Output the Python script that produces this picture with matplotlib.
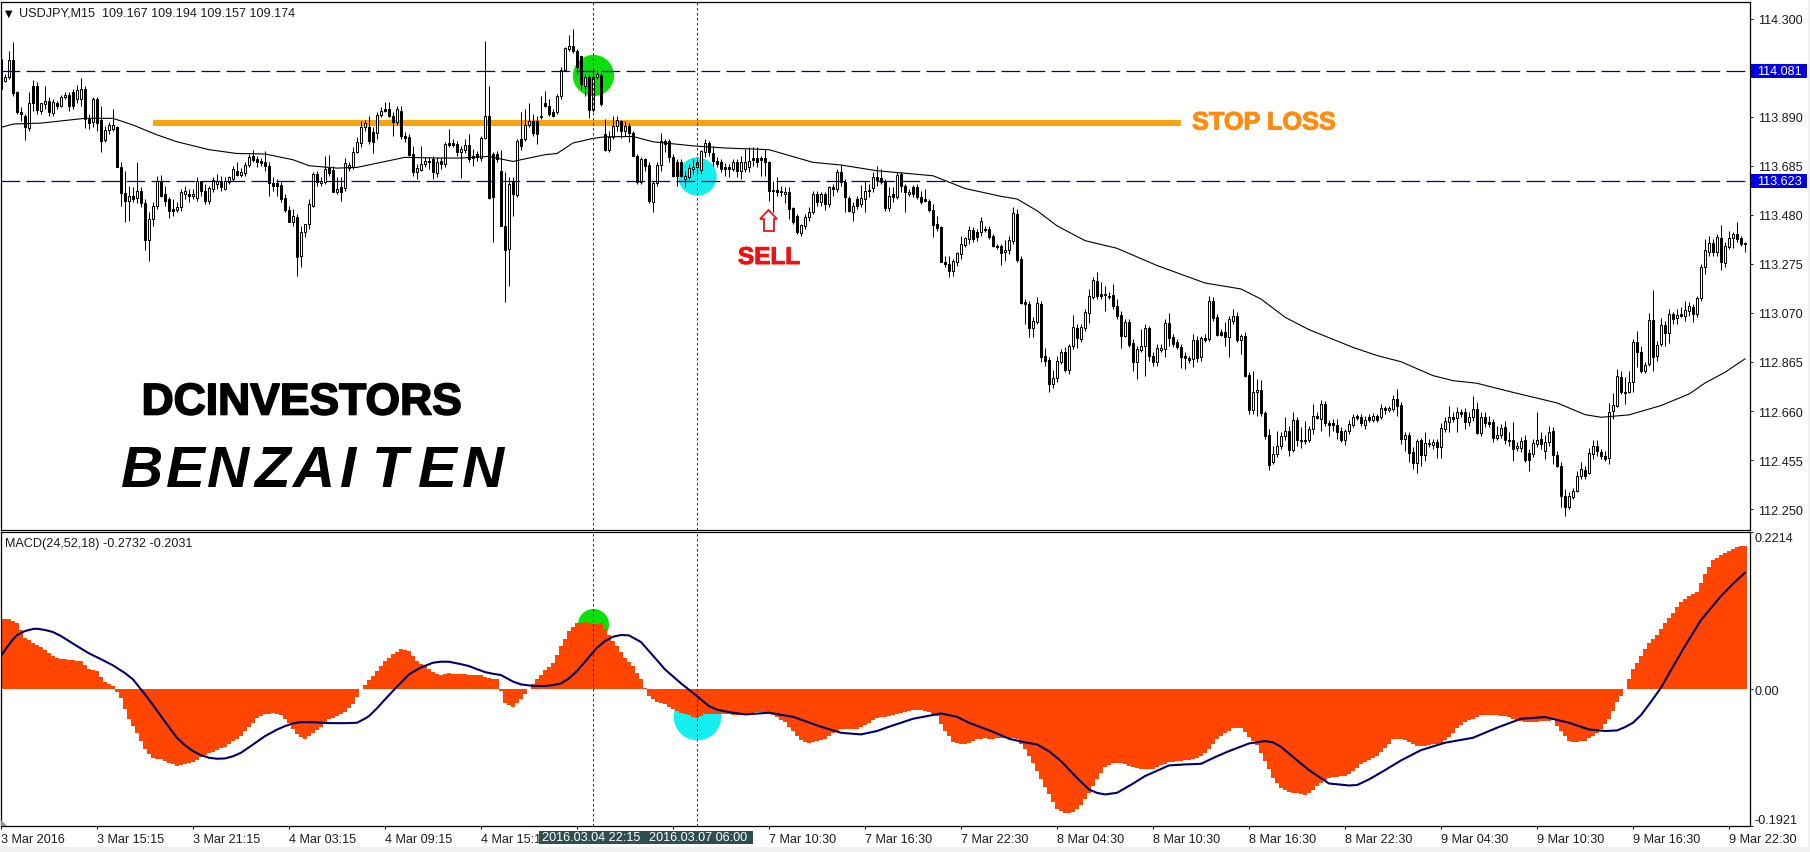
import numpy as np
import matplotlib
matplotlib.use("Agg")
import matplotlib.pyplot as plt
from matplotlib.patches import Rectangle, Polygon
from matplotlib.transforms import Affine2D
import matplotlib.patheffects as pe

symbol_text = "USDJPY,M15  109.167 109.194 109.157 109.174"
macd_text = "MACD(24,52,18) -0.2732 -0.2031"

open_ = [
114.130,114.040,114.054,114.126,113.991,113.908,113.891,113.842,114.016,114.019,
113.915,113.943,113.956,113.905,113.947,113.936,113.973,113.981,113.991,113.963,
113.963,114.005,113.880,113.869,113.963,113.877,113.794,113.835,113.838,113.845,
113.681,113.569,113.539,113.560,113.550,113.578,113.529,113.376,113.462,113.515,
113.622,113.567,113.546,113.504,113.501,113.511,113.567,113.567,113.560,113.550,
113.622,113.581,113.539,113.588,113.608,113.622,113.588,113.618,113.629,113.664,
113.647,113.653,113.689,113.727,113.713,113.706,113.699,113.682,113.611,113.611,
113.604,113.549,113.501,113.451,113.469,113.306,113.407,113.440,113.518,113.650,
113.613,113.618,113.674,113.668,113.576,113.595,113.592,113.675,113.678,113.743,
113.780,113.846,113.845,113.824,113.820,113.898,113.922,113.922,113.894,113.866,
113.915,113.810,113.807,113.736,113.660,113.668,113.692,113.706,113.713,113.654,
113.706,113.692,113.780,113.780,113.775,113.743,113.752,113.773,113.727,113.734,
113.716,113.799,113.891,113.734,113.734,113.661,113.434,113.337,113.618,113.562,
113.796,113.796,113.855,113.873,113.873,113.887,113.949,113.936,113.908,113.908,
113.975,114.086,114.172,114.186,114.165,114.142,114.016,114.054,113.919,114.054,
114.066,113.817,113.752,113.803,113.849,113.873,113.831,113.849,113.820,113.727,
113.618,113.713,113.688,113.535,113.613,113.688,113.789,113.789,113.720,113.699,
113.699,113.629,113.636,113.671,113.678,113.668,113.743,113.780,113.738,113.706,
113.699,113.678,113.678,113.671,113.699,113.664,113.671,113.678,113.716,113.716,
113.716,113.716,113.702,113.585,113.583,113.581,113.567,113.576,113.507,113.476,
113.404,113.434,113.469,113.490,113.567,113.532,113.567,113.525,113.595,113.588,
113.657,113.615,113.550,113.490,113.546,113.525,113.546,113.581,113.590,113.636,
113.632,113.618,113.507,113.567,113.553,113.650,113.599,113.567,113.595,113.595,
113.553,113.546,113.539,113.501,113.441,113.427,113.284,113.274,113.246,113.284,
113.316,113.354,113.379,113.416,113.409,113.407,113.418,113.421,113.393,113.351,
113.351,113.323,113.334,113.372,113.483,113.295,113.114,113.107,113.006,113.033,
113.107,112.889,112.873,112.773,112.797,112.866,112.908,112.833,112.931,113.006,
112.961,113.008,113.070,113.135,113.203,113.148,113.146,113.142,113.145,113.098,
113.061,112.972,113.031,112.943,112.866,112.917,112.933,113.006,112.892,112.866,
112.917,112.919,113.028,112.968,112.947,112.929,112.889,112.882,112.878,112.957,
112.885,112.965,112.961,113.121,113.052,112.992,112.992,112.968,113.038,113.056,
112.958,112.975,112.811,112.666,112.741,112.750,112.652,112.560,112.446,112.481,
112.513,112.555,112.578,112.499,112.623,112.541,112.540,112.537,112.583,112.638,
112.627,112.690,112.609,112.609,112.602,112.578,112.537,112.576,112.603,112.638,
112.637,112.603,112.634,112.623,112.638,112.634,112.673,112.663,112.669,112.711,
112.686,112.544,112.560,112.488,112.443,112.537,112.477,112.523,112.518,112.532,
112.509,112.585,112.616,112.634,112.630,112.655,112.655,112.613,112.634,112.669,
112.569,112.634,112.613,112.613,112.546,112.562,112.592,112.541,112.537,112.505,
112.505,112.537,112.484,112.481,112.523,112.544,112.495,112.530,112.576,112.477,
112.432,112.307,112.258,112.300,112.324,112.390,112.415,112.402,112.481,112.516,
112.488,112.474,112.463,112.660,112.680,112.802,112.741,112.741,112.780,112.947,
112.905,112.829,112.855,113.039,112.889,112.939,113.020,112.985,113.064,113.047,
113.064,113.056,113.080,113.093,113.066,113.131,113.260,113.326,113.361,113.326,
113.382,113.279,113.344,113.382,113.400,113.382,113.362]

close = [
114.005,114.054,114.128,113.988,113.908,113.901,113.845,113.949,113.949,113.919,
113.949,113.956,113.908,113.950,113.933,113.973,113.981,113.936,113.936,114.002,
114.005,113.880,113.863,113.963,113.863,113.790,113.835,113.855,113.855,113.681,
113.569,113.539,113.560,113.546,113.578,113.529,113.376,113.462,113.518,113.622,
113.560,113.539,113.497,113.497,113.511,113.574,113.578,113.560,113.567,113.622,
113.578,113.539,113.590,113.626,113.622,113.595,113.622,113.636,113.671,113.647,
113.659,113.688,113.720,113.710,113.702,113.695,113.685,113.613,113.601,113.601,
113.546,113.501,113.451,113.476,113.302,113.407,113.440,113.525,113.650,113.615,
113.623,113.671,113.655,113.576,113.586,113.577,113.696,113.689,113.743,113.782,
113.846,113.865,113.789,113.785,113.898,113.915,113.915,113.894,113.866,113.922,
113.808,113.799,113.730,113.660,113.674,113.692,113.703,113.699,113.657,113.699,
113.692,113.775,113.773,113.773,113.741,113.755,113.773,113.713,113.716,113.720,
113.799,113.891,113.550,113.553,113.713,113.434,113.334,113.610,113.567,113.789,
113.766,113.855,113.873,113.820,113.817,113.887,113.936,113.901,113.894,113.975,
114.086,114.175,114.186,114.165,114.096,114.026,114.054,113.919,114.054,114.068,
113.942,113.752,113.803,113.849,113.877,113.831,113.849,113.820,113.727,113.618,
113.713,113.685,113.539,113.613,113.688,113.789,113.775,113.720,113.643,113.643,
113.643,113.643,113.674,113.678,113.701,113.748,113.780,113.741,113.706,113.692,
113.671,113.671,113.671,113.699,113.664,113.699,113.699,113.703,113.710,113.699,
113.710,113.699,113.581,113.581,113.576,113.574,113.574,113.504,113.451,113.407,
113.437,113.469,113.490,113.567,113.535,113.567,113.525,113.595,113.588,113.657,
113.615,113.553,113.497,113.518,113.518,113.550,113.581,113.585,113.636,113.625,
113.618,113.507,113.559,113.553,113.646,113.599,113.574,113.574,113.567,113.553,
113.535,113.539,113.501,113.438,113.425,113.281,113.274,113.246,113.288,113.320,
113.358,113.382,113.416,113.379,113.386,113.455,113.421,113.388,113.348,113.348,
113.320,113.334,113.376,113.486,113.292,113.112,113.107,113.006,113.036,113.110,
112.887,112.871,112.773,112.797,112.869,112.908,112.833,112.933,113.010,112.964,
113.010,113.073,113.139,113.208,113.139,113.142,113.149,113.138,113.098,113.059,
112.975,113.031,112.937,112.866,112.919,112.931,113.006,112.892,112.866,112.922,
112.922,113.028,112.965,112.940,112.926,112.887,112.883,112.875,112.957,112.880,
112.965,112.958,113.118,113.049,112.979,112.979,112.971,113.045,113.059,112.958,
112.972,112.808,112.666,112.741,112.750,112.652,112.557,112.435,112.481,112.513,
112.555,112.576,112.499,112.623,112.537,112.537,112.535,112.585,112.638,112.634,
112.690,112.609,112.605,112.605,112.574,112.537,112.576,112.606,112.634,112.634,
112.610,112.621,112.624,112.641,112.624,112.673,112.663,112.673,112.711,112.683,
112.544,112.558,112.485,112.443,112.534,112.477,112.527,112.527,112.532,112.509,
112.588,112.617,112.637,112.627,112.655,112.648,112.613,112.634,112.669,112.569,
112.634,112.609,112.609,112.546,112.562,112.588,112.541,112.537,112.502,112.513,
112.535,112.457,112.457,112.525,112.541,112.523,112.530,112.574,112.477,112.429,
112.307,112.258,112.304,112.324,112.390,112.418,112.390,112.485,112.516,112.491,
112.474,112.460,112.658,112.685,112.805,112.741,112.738,112.780,112.947,112.905,
112.828,112.853,113.039,112.887,112.936,113.020,112.985,113.067,113.045,113.061,
113.059,113.082,113.098,113.066,113.131,113.260,113.331,113.361,113.326,113.386,
113.281,113.348,113.382,113.400,113.379,113.356,113.356]

high = [
114.172,114.068,114.165,114.200,113.997,113.929,113.901,113.991,114.043,114.033,
113.929,114.016,113.970,113.963,113.956,113.980,113.991,113.991,114.005,114.022,
114.050,114.016,113.901,113.970,113.970,113.936,113.852,113.866,113.922,113.852,
113.699,113.664,113.601,113.595,113.699,113.595,113.546,113.490,113.532,113.643,
113.647,113.601,113.553,113.546,113.532,113.588,113.599,113.588,113.588,113.636,
113.622,113.608,113.601,113.636,113.650,113.643,113.636,113.643,113.685,113.699,
113.674,113.699,113.734,113.752,113.727,113.716,113.748,113.699,113.636,113.629,
113.615,113.567,113.518,113.504,113.483,113.434,113.441,113.546,113.657,113.664,
113.636,113.727,113.730,113.685,113.636,113.636,113.716,113.699,113.762,113.803,
113.873,113.877,113.891,113.845,113.908,113.929,113.952,113.952,113.908,113.933,
113.936,113.824,113.817,113.768,113.692,113.768,113.720,113.720,113.727,113.720,
113.720,113.782,113.838,113.796,113.789,113.768,113.796,113.817,113.755,113.748,
113.810,114.207,114.016,113.741,113.748,113.750,113.657,113.636,113.636,113.796,
113.908,113.922,113.947,113.901,113.894,113.977,113.998,113.963,113.922,113.984,
114.096,114.179,114.231,114.258,114.172,114.144,114.068,114.064,114.086,114.086,
114.072,113.880,113.831,113.891,113.891,113.877,113.873,113.863,113.831,113.734,
113.720,113.716,113.699,113.622,113.699,113.820,113.796,113.796,113.734,113.713,
113.713,113.664,113.692,113.713,113.720,113.752,113.796,113.789,113.768,113.720,
113.713,113.696,113.692,113.713,113.713,113.727,113.755,113.762,113.762,113.762,
113.727,113.755,113.706,113.622,113.636,113.601,113.595,113.595,113.511,113.483,
113.441,113.483,113.511,113.581,113.581,113.576,113.574,113.599,113.608,113.671,
113.688,113.629,113.557,113.532,113.560,113.604,113.622,113.608,113.657,113.685,
113.671,113.629,113.595,113.595,113.657,113.657,113.608,113.588,113.604,113.608,
113.581,113.588,113.546,113.525,113.476,113.434,113.309,113.309,113.295,113.323,
113.390,113.386,113.434,113.427,113.421,113.469,113.434,113.434,113.400,113.358,
113.358,113.376,113.390,113.511,113.504,113.309,113.128,113.121,113.052,113.135,
113.121,112.922,112.885,112.832,112.889,112.919,112.926,112.940,113.061,113.024,
113.024,113.086,113.170,113.219,113.239,113.198,113.184,113.156,113.191,113.128,
113.079,113.045,113.045,112.961,112.933,113.003,113.024,113.017,112.905,112.940,
112.940,113.045,113.068,112.982,112.961,112.940,112.905,112.892,112.982,112.972,
112.975,112.982,113.142,113.135,113.065,113.003,113.031,113.059,113.086,113.073,
112.982,112.989,112.822,112.829,112.794,112.790,112.662,112.585,112.516,112.578,
112.571,112.634,112.599,112.655,112.634,112.592,112.620,112.599,112.690,112.655,
112.708,112.704,112.624,112.627,112.627,112.592,112.585,112.624,112.648,112.648,
112.648,112.641,112.648,112.652,112.648,112.690,112.683,112.683,112.729,112.752,
112.697,112.574,112.571,112.509,112.544,112.546,112.574,112.544,112.544,112.544,
112.610,112.634,112.680,112.655,112.676,112.669,112.672,112.655,112.722,112.699,
112.655,112.655,112.641,112.627,112.599,112.606,112.620,112.571,112.616,112.530,
112.551,112.558,112.502,112.544,112.655,112.574,112.558,112.596,112.592,112.495,
112.446,112.335,112.321,112.337,112.411,112.446,112.432,112.505,112.537,112.537,
112.502,112.491,112.693,112.736,112.836,112.828,112.801,112.828,112.961,112.996,
112.933,112.864,113.070,113.167,112.954,113.047,113.038,113.086,113.073,113.086,
113.093,113.118,113.114,113.107,113.142,113.274,113.379,113.393,113.379,113.400,
113.437,113.365,113.411,113.407,113.448,113.393,113.368]

low = [
113.984,114.033,114.047,113.977,113.901,113.873,113.794,113.831,113.915,113.901,
113.901,113.922,113.894,113.891,113.922,113.929,113.963,113.915,113.922,113.949,
113.936,113.841,113.838,113.845,113.831,113.741,113.782,113.817,113.831,113.678,
113.515,113.451,113.455,113.532,113.529,113.511,113.334,113.288,113.434,113.504,
113.553,113.518,113.468,113.476,113.490,113.497,113.546,113.532,113.546,113.539,
113.560,113.525,113.525,113.574,113.588,113.581,113.585,113.608,113.622,113.643,
113.636,113.643,113.678,113.699,113.678,113.685,113.664,113.557,113.581,113.560,
113.532,113.490,113.451,113.434,113.223,113.260,113.386,113.421,113.511,113.601,
113.601,113.608,113.643,113.574,113.567,113.536,113.581,113.664,113.671,113.738,
113.762,113.831,113.775,113.738,113.796,113.887,113.908,113.887,113.810,113.855,
113.796,113.782,113.727,113.643,113.629,113.664,113.678,113.671,113.629,113.636,
113.671,113.678,113.762,113.762,113.727,113.633,113.738,113.699,113.685,113.706,
113.706,113.796,113.546,113.365,113.699,113.434,113.117,113.181,113.476,113.553,
113.752,113.789,113.845,113.810,113.775,113.880,113.929,113.894,113.887,113.901,
113.963,114.082,114.165,114.158,114.068,114.005,113.977,113.883,113.910,114.047,
113.933,113.748,113.743,113.796,113.831,113.799,113.810,113.782,113.727,113.608,
113.608,113.664,113.529,113.493,113.601,113.664,113.741,113.699,113.636,113.599,
113.636,113.595,113.629,113.650,113.650,113.650,113.720,113.727,113.685,113.678,
113.657,113.643,113.636,113.664,113.636,113.629,113.657,113.657,113.685,113.678,
113.643,113.643,113.539,113.490,113.560,113.560,113.529,113.462,113.441,113.400,
113.393,113.421,113.455,113.483,113.518,113.518,113.501,113.511,113.560,113.574,
113.601,113.490,113.490,113.455,113.504,113.511,113.490,113.553,113.574,113.601,
113.608,113.497,113.497,113.532,113.546,113.574,113.493,113.560,113.553,113.546,
113.525,113.532,113.490,113.386,113.414,113.281,113.260,113.219,113.223,113.268,
113.295,113.344,113.358,113.365,113.372,113.393,113.407,113.379,113.344,113.337,
113.270,113.288,113.316,113.358,113.281,113.107,113.024,112.968,112.968,113.024,
112.866,112.850,112.738,112.755,112.780,112.857,112.822,112.815,112.919,112.924,
112.947,112.996,113.028,113.128,113.128,113.128,113.079,113.128,113.086,113.045,
112.924,112.968,112.926,112.829,112.794,112.905,112.808,112.871,112.850,112.850,
112.905,112.885,112.933,112.926,112.919,112.839,112.836,112.860,112.843,112.864,
112.871,112.947,112.954,113.038,112.975,112.972,112.933,112.887,113.024,112.947,
112.899,112.801,112.648,112.648,112.641,112.641,112.544,112.415,112.439,112.467,
112.502,112.537,112.474,112.488,112.516,112.506,112.523,112.530,112.564,112.627,
112.578,112.599,112.557,112.578,112.544,112.530,112.518,112.564,112.592,112.624,
112.599,112.585,112.613,112.613,112.616,112.627,112.648,112.655,112.662,112.641,
112.523,112.495,112.446,112.418,112.401,112.432,112.453,112.509,112.502,112.463,
112.463,112.571,112.574,112.613,112.574,112.634,112.585,112.599,112.620,112.564,
112.555,112.592,112.592,112.530,112.537,112.546,112.523,112.516,112.450,112.491,
112.488,112.446,112.411,112.467,112.509,112.502,112.460,112.516,112.439,112.425,
112.258,112.221,112.251,112.293,112.321,112.377,112.377,112.398,112.460,112.474,
112.460,112.450,112.439,112.627,112.676,112.731,112.690,112.734,112.738,112.846,
112.819,112.818,112.850,112.829,112.871,112.933,112.933,112.944,113.024,113.024,
113.052,113.038,113.059,113.033,113.052,113.121,113.233,113.309,113.309,113.309,
113.251,113.260,113.337,113.341,113.365,113.351,113.326]

ma_bars = [0,3,10,21,28,33,39,44,52,59,66,73,77,84,89,95,101,109,115,122,125,128,136,139,143,148,151,158,163,173,181,192,203,210,219,233,241,250,254,259,264,271,279,289,301,310,315,321,327,338,344,350,358,363,369,378,389,396,400,407,415,422,426,431,436]
ma_vals = [113.845,113.859,113.863,113.883,113.883,113.855,113.814,113.785,113.752,113.736,113.734,113.710,113.685,113.675,113.678,113.699,113.720,113.717,113.717,113.724,113.713,113.703,113.731,113.736,113.780,113.799,113.806,113.807,113.785,113.768,113.759,113.752,113.699,113.688,113.664,113.643,113.590,113.557,113.546,113.497,113.434,113.372,113.340,113.268,113.195,113.170,113.128,113.052,113.000,112.926,112.892,112.866,112.808,112.787,112.776,112.738,112.694,112.645,112.634,112.644,112.683,112.731,112.777,112.822,112.878]

macd_hist = [
.0994,.0994,.0994,.0966,.0938,.0833,.0727,.0692,.0657,.0628,.0600,.0553,.0507,.0476,.0446,.0434,.0422,.0415,.0408,.0401,
.0394,.0342,.0291,.0274,.0258,.0180,.0103,.0075,.0047,-.0035,-.0117,-.0270,-.0422,-.0516,-.0610,-.0727,-.0844,-.0902,-.0961,-.0973,
-.0985,-.1008,-.1032,-.1055,-.1079,-.1067,-.1055,-.1038,-.1022,-.0987,-.0952,-.0926,-.0900,-.0877,-.0854,-.0830,-.0807,-.0767,-.0727,-.0692,
-.0657,-.0591,-.0525,-.0466,-.0408,-.0375,-.0342,-.0340,-.0338,-.0352,-.0366,-.0417,-.0469,-.0551,-.0633,-.0668,-.0704,-.0657,-.0610,-.0567,
-.0525,-.0473,-.0422,-.0398,-.0375,-.0347,-.0319,-.0265,-.0211,-.0104,.0002,.0066,.0131,.0194,.0258,.0328,.0399,.0445,.0492,.0527,
.0563,.0551,.0539,.0469,.0399,.0363,.0328,.0286,.0244,.0223,.0202,.0213,.0225,.0222,.0220,.0215,.0211,.0206,.0202,.0200,
.0197,.0180,.0164,.0152,.0141,-.0023,-.0188,-.0218,-.0249,-.0195,-.0141,-.0066,.0009,.0075,.0141,.0206,.0272,.0319,.0366,.0488,
.0610,.0715,.0821,.0875,.0929,.0938,.0947,.0931,.0915,.0926,.0938,.0849,.0760,.0685,.0610,.0528,.0446,.0387,.0328,.0234,
.0141,.0023,-.0094,-.0136,-.0178,-.0195,-.0211,-.0246,-.0281,-.0305,-.0328,-.0347,-.0366,-.0387,-.0408,-.0380,-.0352,-.0347,-.0342,-.0342,
-.0342,-.0347,-.0352,-.0359,-.0366,-.0354,-.0342,-.0335,-.0328,-.0323,-.0319,-.0328,-.0338,-.0363,-.0389,-.0424,-.0460,-.0525,-.0591,-.0654,
-.0718,-.0734,-.0750,-.0738,-.0727,-.0710,-.0694,-.0656,-.0619,-.0586,-.0553,-.0553,-.0553,-.0553,-.0553,-.0530,-.0507,-.0469,-.0431,-.0408,
-.0385,-.0382,-.0380,-.0366,-.0352,-.0333,-.0314,-.0300,-.0286,-.0290,-.0295,-.0307,-.0319,-.0347,-.0375,-.0480,-.0586,-.0661,-.0736,-.0755,
-.0774,-.0762,-.0750,-.0727,-.0704,-.0696,-.0689,-.0692,-.0694,-.0690,-.0685,-.0682,-.0680,-.0687,-.0694,-.0769,-.0844,-.0942,-.1041,-.1149,
-.1257,-.1367,-.1477,-.1578,-.1679,-.1712,-.1745,-.1735,-.1726,-.1679,-.1632,-.1543,-.1454,-.1360,-.1266,-.1177,-.1088,-.1060,-.1032,-.1032,
-.1032,-.1055,-.1079,-.1095,-.1112,-.1114,-.1116,-.1121,-.1126,-.1097,-.1069,-.1045,-.1022,-.1015,-.1008,-.1003,-.0999,-.0992,-.0985,-.0961,
-.0938,-.0891,-.0844,-.0769,-.0694,-.0656,-.0619,-.0581,-.0544,-.0541,-.0539,-.0602,-.0666,-.0727,-.0788,-.0898,-.1008,-.1125,-.1243,-.1313,
-.1384,-.1414,-.1445,-.1454,-.1463,-.1475,-.1487,-.1451,-.1416,-.1364,-.1313,-.1278,-.1243,-.1236,-.1229,-.1224,-.1219,-.1184,-.1149,-.1102,
-.1055,-.1027,-.0999,-.0968,-.0938,-.0879,-.0821,-.0762,-.0704,-.0699,-.0694,-.0717,-.0741,-.0769,-.0797,-.0797,-.0797,-.0785,-.0774,-.0762,
-.0750,-.0708,-.0666,-.0607,-.0549,-.0502,-.0455,-.0434,-.0413,-.0389,-.0366,-.0361,-.0356,-.0361,-.0366,-.0370,-.0375,-.0394,-.0413,-.0429,
-.0446,-.0453,-.0460,-.0457,-.0455,-.0450,-.0446,-.0438,-.0431,-.0508,-.0586,-.0656,-.0727,-.0734,-.0741,-.0731,-.0722,-.0689,-.0657,-.0610,
-.0563,-.0492,-.0422,-.0300,-.0178,-.0089,.0000,.0140,.0281,.0375,.0469,.0563,.0657,.0708,.0760,.0844,.0929,.1004,.1079,.1154,
.1229,.1271,.1313,.1341,.1369,.1493,.1618,.1719,.1820,.1852,.1885,.1915,.1946,.1976,.2007,.2012,.2017]

signal_bars = [0,1,3,4,6,8,9,11,13,15,17,19,22,25,28,31,33,36,38,40,42,44,46,48,50,52,54,56,58,60,63,66,69,71,73,75,78,82,86,89,91,92,94,96,99,102,105,108,110,112,115,117,119,121,123,125,128,130,133,136,138,140,142,144,147,149,151,153,155,157,160,163,166,170,174,177,179,182,186,192,198,202,205,210,215,219,222,228,235,239,242,248,252,256,259,262,265,269,272,274,276,279,283,286,292,296,300,304,307,312,316,318,320,323,327,332,337,339,342,346,350,355,361,368,374,380,386,392,397,401,404,406,408,410,412,415,418,421,425,430,433,436]
signal_vals = [.0469,.0555,.0704,.0763,.0821,.0850,.0854,.0836,.0807,.0750,.0680,.0610,.0507,.0425,.0338,.0230,.0141,-.0070,-.0220,-.0375,-.0530,-.0680,-.0785,-.0868,-.0925,-.0961,-.0975,-.0971,-.0940,-.0891,-.0775,-.0657,-.0565,-.0516,-.0478,-.0460,-.0462,-.0474,-.0475,-.0469,-.0410,-.0375,-.0265,-.0141,.0040,.0211,.0310,.0375,.0390,.0389,.0355,.0328,.0285,.0244,.0220,.0202,.0110,.0070,.0050,.0047,.0060,.0084,.0155,.0258,.0455,.0586,.0680,.0741,.0765,.0760,.0666,.0475,.0281,.0085,-.0094,-.0235,-.0285,-.0319,-.0352,-.0328,-.0385,-.0465,-.0525,-.0610,-.0633,-.0585,-.0525,-.0413,-.0338,-.0385,-.0469,-.0596,-.0694,-.0745,-.0774,-.0870,-.1008,-.1245,-.1407,-.1455,-.1477,-.1454,-.1325,-.1219,-.1069,-.1055,-.1046,-.0940,-.0868,-.0760,-.0727,-.0745,-.0807,-.0950,-.1135,-.1323,-.1351,-.1345,-.1266,-.1135,-.0999,-.0854,-.0750,-.0680,-.0539,-.0413,-.0389,-.0469,-.0563,-.0585,-.0577,-.0530,-.0469,-.0360,-.0211,.0023,.0320,.0610,.0975,.1313,.1485,.1642]

price_ticks = [114.300,114.095,113.890,113.685,113.480,113.275,113.070,112.865,112.660,112.455,112.250]
macd_ticks = [-0.1921,0.0,0.2214]
macd_labels = ["-0.1921","0.00","0.2214"]
time_labels = ["3 Mar 2016","3 Mar 15:15","3 Mar 21:15","4 Mar 03:15","4 Mar 09:15","4 Mar 15:15","","","7 Mar 10:30","7 Mar 16:30","7 Mar 22:30","8 Mar 04:30","8 Mar 10:30","8 Mar 16:30","8 Mar 22:30","9 Mar 04:30","9 Mar 10:30","9 Mar 16:30","9 Mar 22:30"]
levels = [114.081,113.623]
stop_loss = 113.863
crosshair_bars = [148,174]
crosshair_labels = ["2016.03.04 22:15","2016.03.07 06:00"]

W,H = 1810,853
FONT = "Liberation Sans"
plt.rcParams["font.family"] = [FONT,"DejaVu Sans"]
fig = plt.figure(figsize=(W/100,H/100),dpi=100,facecolor="white")
px = Affine2D().scale(1,-1).translate(0,H)+matplotlib.transforms.IdentityTransform()

def axes_px(l,t,r,b):
    return fig.add_axes([l/W,1-b/H,(r-l)/W,(b-t)/H])

ax = axes_px(1,3,1750,531)
ax2 = axes_px(1,533,1750,827)
xlim = (0,437.25)
n = min(len(open_),len(close),len(high),len(low))
idx = np.arange(n)
o,c,h,l = [np.array(a[:n]) for a in (open_,close,high,low)]

# main panel
ax.set_xlim(*xlim); ax.set_ylim(112.163,114.369)
ax.scatter([148],[114.064],s=880,c="#0BE00B",linewidths=0,zorder=1)
ax.scatter([174],[113.643],s=760,c="#14F0F0",linewidths=0,zorder=1)
ax.plot([38,295],[stop_loss,stop_loss],color="#F9A30F",lw=4.32,solid_capstyle="butt",zorder=2)
ax.vlines(idx,l,h,color="black",lw=0.72,zorder=3)
up = c>=o
ax.bar(idx[up],np.maximum((c-o)[up],0.004),bottom=o[up],width=0.55,facecolor="white",edgecolor="black",linewidth=0.72,zorder=4)
ax.bar(idx[~up],np.minimum((c-o)[~up],-0.006),bottom=o[~up],width=0.55,facecolor="black",edgecolor="black",linewidth=0.72,zorder=4)
ax.plot(ma_bars,ma_vals,color="black",lw=0.8,zorder=5)
for lv in levels:
    ax.axhline(lv,color="#00008B",lw=0.9,dashes=(15,5),zorder=6)
ax.set_yticks(price_ticks); ax.set_yticklabels([f"{t:.3f}" for t in price_ticks])
ax.yaxis.tick_right()
ax.tick_params(axis="y",length=2.4,width=0.72,pad=3.2,labelsize=9.1,colors="#1a1a1a")
ax.set_xticks([])

# MACD panel
ax2.set_xlim(*xlim); ax2.set_ylim(-0.1921,0.2214)
ax2.scatter([148],[0.0924],s=500,c="#0BE00B",linewidths=0,zorder=1)
ax2.scatter([174],[-0.0374],s=1180,c="#14F0F0",linewidths=0,zorder=1)
hx = np.arange(len(macd_hist))
ax2.bar(hx,macd_hist,width=1.02,color="#FF4500",linewidth=0,zorder=2)
ax2.plot(signal_bars,signal_vals,color="#000066",lw=1.5,zorder=3)
ax2.set_yticks(macd_ticks); ax2.set_yticklabels(macd_labels)
ax2.yaxis.tick_right()
ax2.tick_params(axis="y",length=2.2,width=0.72,pad=1.2,labelsize=9.1,colors="#1a1a1a")
ylabs = ax2.get_yticklabels()
ylabs[0].set_va("bottom"); ylabs[2].set_va("top")
ax2.set_xticks(np.arange(len(time_labels))*24)
ax2.set_xticklabels(time_labels,ha="left",fontsize=9.1,color="#1a1a1a")
ax2.tick_params(axis="x",length=2.4,width=0.72,pad=2.5)

for a in (ax,ax2):
    for s in a.spines.values():
        s.set_linewidth(0.9); s.set_color("black")
    for b in crosshair_bars:
        a.axvline(b,color="#333333",lw=0.72,dashes=(2.5,2.5),zorder=7)

# chrome
fig.add_artist(Rectangle((0,848),W,5,transform=px,fc="#F0F0F0",ec="none",zorder=0))
fig.add_artist(Rectangle((1808,0),2,H,transform=px,fc="#F0F0F0",ec="none",zorder=0))
fig.add_artist(Rectangle((0,0),W,1,transform=px,fc="#8f8f8f",ec="none",zorder=0))
fig.add_artist(Polygon([(1,821),(1,827),(7,827)],closed=True,transform=px,fc="#8a9297",ec="none",zorder=4))
fig.text(8.5,14,"▼",transform=px,fontsize=7,ha="center",va="center",family="DejaVu Sans",color="black",zorder=6)
fig.text(19,14,symbol_text,transform=px,fontsize=9.1,ha="left",va="center",color="#1a1a1a",zorder=6)
fig.text(5,544,macd_text,transform=px,fontsize=9.1,ha="left",va="center",color="#1a1a1a",zorder=6)

for lv,yc in zip(levels,(72,182)):
    fig.add_artist(Rectangle((1751,yc-7),56,14,transform=px,fc="#0000E6",ec="none",zorder=5))
    fig.text(1779,yc+0.5,f"{lv:.3f}",transform=px,fontsize=9.1,ha="center",va="center",color="white",zorder=6)

for xc,lab in zip((591.5,698.5),crosshair_labels):
    fig.add_artist(Rectangle((xc-53,832),107,13,transform=px,fc="#2F4F4F",ec="none",zorder=5))
    fig.text(xc,838.5,lab,transform=px,fontsize=9.1,ha="center",va="center",color="white",zorder=6)

t1 = fig.text(1192,123.5,"STOP LOSS",transform=px,fontsize=18.2,fontweight="bold",ha="left",va="center",color="#FF8C0F",zorder=6)
t1.set_path_effects([pe.withStroke(linewidth=0.7,foreground="#FF8C0F")])
t2 = fig.text(769,258.5,"SELL",transform=px,fontsize=17.5,fontweight="bold",ha="center",va="center",color="#EE1111",zorder=6)
t2.set_path_effects([pe.withStroke(linewidth=0.7,foreground="#EE1111")])
fig.add_artist(Polygon([(768.5,211),(777,220),(774,220),(774,232),(764,232),(764,220),(760,220)],closed=True,transform=px,fc="white",ec="#EE1111",lw=1.3,zorder=6))
t = fig.text(302,404,"DCINVESTORS",transform=px,fontsize=32,fontweight="bold",ha="center",va="center",color="black",zorder=6)
t.set_path_effects([pe.withStroke(linewidth=1.2,foreground="black")])
for ch,xc in zip("BENZAITEN",(142,185,228,272,313,348,390,437,483)):
    fig.text(xc,472,ch,transform=px,fontsize=42,fontweight="bold",fontstyle="italic",ha="center",va="center",color="black",zorder=6,family=["Liberation Sans Narrow","Liberation Sans"])

fig.savefig("out.png",dpi=100,facecolor="white")
print(len(open_),len(close),len(high),len(low),len(macd_hist),len(ma_bars),len(ma_vals),len(signal_bars),len(signal_vals))
